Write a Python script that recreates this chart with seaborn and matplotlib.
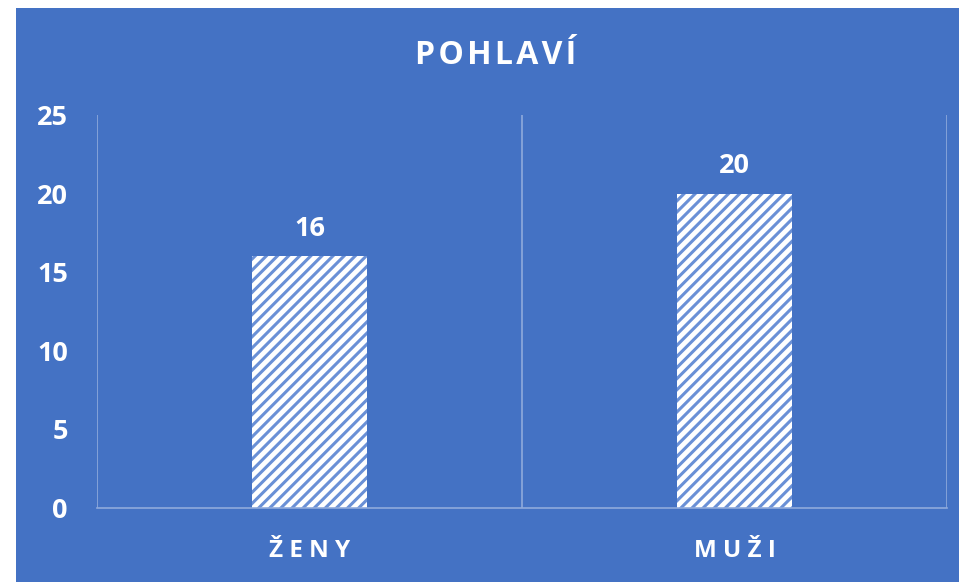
import matplotlib
matplotlib.use("Agg")
import matplotlib.pyplot as plt
import seaborn as sns
from matplotlib.patches import Rectangle

# Data
categories = ["ŽENY", "MUŽI"]
values = [16, 20]
y_ticks = [0, 5, 10, 15, 20, 25]
title = "POHLAVÍ"

blue = "#4472C4"
grid_col = "#8FAADC"
stripe = "#6A90D6"

sns.set_style("white")
plt.rcParams['font.family'] = ['Open Sans', 'DejaVu Sans']
plt.rcParams['hatch.linewidth'] = 2.2

fig = plt.figure(figsize=(9.59, 5.82), dpi=100, facecolor="white")
# blue chart area (small white margin left and top)
fig.patches.append(Rectangle((16 / 959, 0), 1 - 16 / 959, 1 - 8 / 582,
                             transform=fig.transFigure, facecolor=blue,
                             edgecolor="none", zorder=-10))

ax = fig.add_axes([97 / 959, 1 - 508 / 582, 850 / 959, 393 / 582])
ax.set_facecolor("none")

sns.barplot(x=categories, y=values, ax=ax, color="white", width=0.27,
            hatch="///", edgecolor=stripe, linewidth=0, saturation=1)

ax.set_xlim(-0.5, 1.5)
ax.set_ylim(0, 25)
ax.set_yticks(y_ticks)
ax.set_yticklabels([str(t) for t in y_ticks], color="white",
                   fontsize=19.5, fontweight="bold")
ax.set_xticks(range(len(categories)))
ax.set_xticklabels([" ".join(c) for c in categories], color="white",
                   fontsize=17.5, fontweight="bold")
ax.tick_params(axis="y", length=0, pad=21)
ax.tick_params(axis="x", length=0, pad=22)
ax.set_xlabel("")
ax.set_ylabel("")

# vertical gridlines at category boundaries
for xb in [-0.5, 0.5, 1.5]:
    ax.axvline(xb, color=grid_col, linewidth=1.2, zorder=0)
for side in ["top", "right", "left"]:
    ax.spines[side].set_visible(False)
ax.spines["bottom"].set_color(grid_col)
ax.spines["bottom"].set_linewidth(1.2)

# value labels
for i, v in enumerate(values):
    ax.text(i, v + 0.9, f"{v}", ha="center", va="bottom", color="white",
            fontsize=19.5, fontweight="bold")

fig.text(496 / 959, 1 - 56 / 582, "\u200a".join(title), ha="center",
         va="center", color="white", fontsize=23, fontweight="bold")

fig.savefig("out.png", dpi=100, facecolor="white")
